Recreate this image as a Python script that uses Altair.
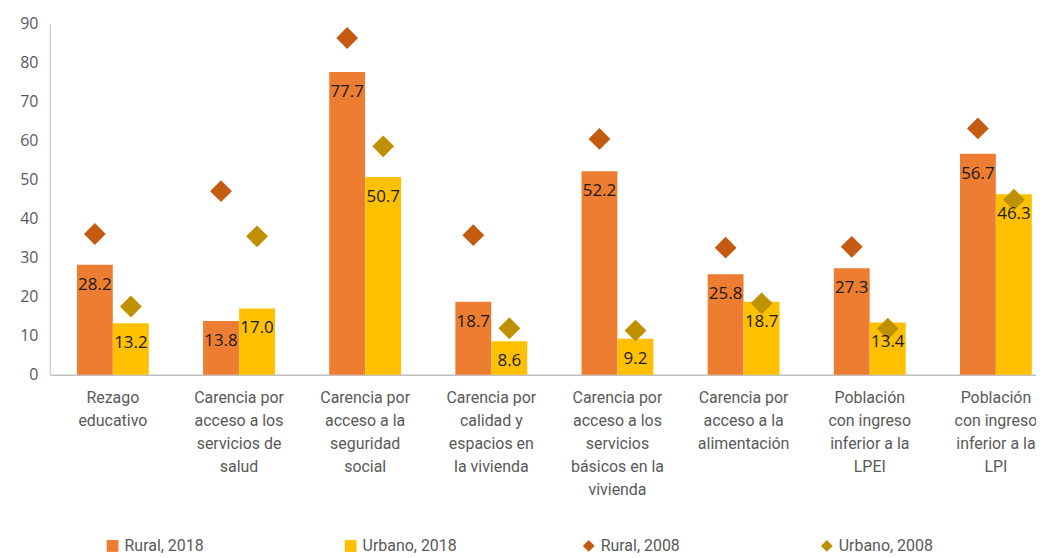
import altair as alt
import pandas as pd

categories = [
    "Rezago\neducativo",
    "Carencia por\nacceso a los\nservicios de\nsalud",
    "Carencia por\nacceso a la\nseguridad\nsocial",
    "Carencia por\ncalidad y\nespacios en\nla vivienda",
    "Carencia por\nacceso a los\nservicios\nbásicos en la\nvivienda",
    "Carencia por\nacceso a la\nalimentación",
    "Población\ncon ingreso\ninferior a la\nLPEI",
    "Población\ncon ingreso\ninferior a la\nLPI",
]
rural_2018 = [28.2, 13.8, 77.7, 18.7, 52.2, 25.8, 27.3, 56.7]
urbano_2018 = [13.2, 17.0, 50.7, 8.6, 9.2, 18.7, 13.4, 46.3]
rural_2008 = [36.1, 47.1, 86.4, 35.8, 60.5, 32.6, 32.8, 63.2]
urbano_2008 = [17.5, 35.5, 58.6, 11.9, 11.3, 18.3, 11.8, 44.9]

series_labels = ["Rural, 2018", "Urbano, 2018", "Rural, 2008", "Urbano, 2008"]
series_colors = ["#ED7D31", "#FFC000", "#C55A11", "#BF9000"]
series_shapes = ["square", "square", "diamond", "diamond"]

rows = []
for i, c in enumerate(categories):
    rows.append(dict(cat=c, grupo="Rural", anio=2018, serie="Rural, 2018", valor=rural_2018[i]))
    rows.append(dict(cat=c, grupo="Urbano", anio=2018, serie="Urbano, 2018", valor=urbano_2018[i]))
    rows.append(dict(cat=c, grupo="Rural", anio=2008, serie="Rural, 2008", valor=rural_2008[i]))
    rows.append(dict(cat=c, grupo="Urbano", anio=2008, serie="Urbano, 2008", valor=urbano_2008[i]))
df = pd.DataFrame(rows)

LABEL_FONT = "Roboto"
GREY = "#595959"

x_enc = alt.X(
    "cat:N",
    sort=categories,
    title=None,
    scale=alt.Scale(paddingInner=0.4286, paddingOuter=0.123, align=0.87),
    axis=alt.Axis(
        labelAngle=0,
        labelExpr="split(datum.value, '\\n')",
        labelFont=LABEL_FONT,
        labelFontSize=16,
        labelColor=GREY,
        labelLineHeight=23,
        labelPadding=15,
        labelBaseline="top",
        ticks=False,
        domainColor="#BFBFBF",
        domainWidth=1.5,
        labelLimit=200,
    ),
)
xoff = alt.XOffset("grupo:N", scale=alt.Scale(domain=["Rural", "Urbano"]))
y_enc = alt.Y(
    "valor:Q",
    title=None,
    scale=alt.Scale(domain=[0, 90]),
    axis=alt.Axis(
        values=list(range(0, 91, 10)),
        grid=False,
        ticks=False,
        labelFont="Open Sans",
        labelFontSize=16,
        labelColor=GREY,
        labelPadding=12,
        domainColor="#D0D0D0",
        domainWidth=1.5,
    ),
)
color_enc = alt.Color(
    "serie:N",
    scale=alt.Scale(domain=series_labels, range=series_colors),
    legend=alt.Legend(
        title=None,
        orient="none",
        legendX=55,
        legendY=516,
        direction="horizontal",
        columns=4,
        gridAlign="all",
        columnPadding=124,
        labelFont=LABEL_FONT,
        labelFontSize=16,
        labelColor=GREY,
        symbolSize=140,
        symbolStrokeWidth=0,
        labelOffset=4,
    ),
)

base = alt.Chart(df)

bars = base.transform_filter("datum.anio == 2018").mark_bar(size=36).encode(
    x=x_enc, xOffset=xoff, y=y_enc, color=color_enc
)

points = base.transform_filter("datum.anio == 2008").mark_point(
    filled=True, size=480, opacity=1
).encode(
    x=x_enc,
    xOffset=xoff,
    y=y_enc,
    color=color_enc,
    shape=alt.Shape(
        "serie:N",
        scale=alt.Scale(domain=series_labels, range=series_shapes),
        legend=alt.Legend(title=None),
    ),
)

labels = base.transform_filter("datum.anio == 2018").mark_text(
    baseline="top", dy=12, font="Open Sans", fontSize=17, color="#1a1a1a"
).encode(
    x=x_enc, xOffset=xoff, y=y_enc, text=alt.Text("valor:Q", format=".1f")
)

chart = alt.layer(bars, points, labels).properties(
    width=990,
    height=352,
    autosize=alt.AutoSizeParams(type="none"),
    padding={"left": 42, "top": 15, "right": 0, "bottom": 184},
).configure_view(stroke=None).configure_legend(gridAlign="all")

chart.save("out.html", embed_options={"renderer": "svg", "actions": False})
